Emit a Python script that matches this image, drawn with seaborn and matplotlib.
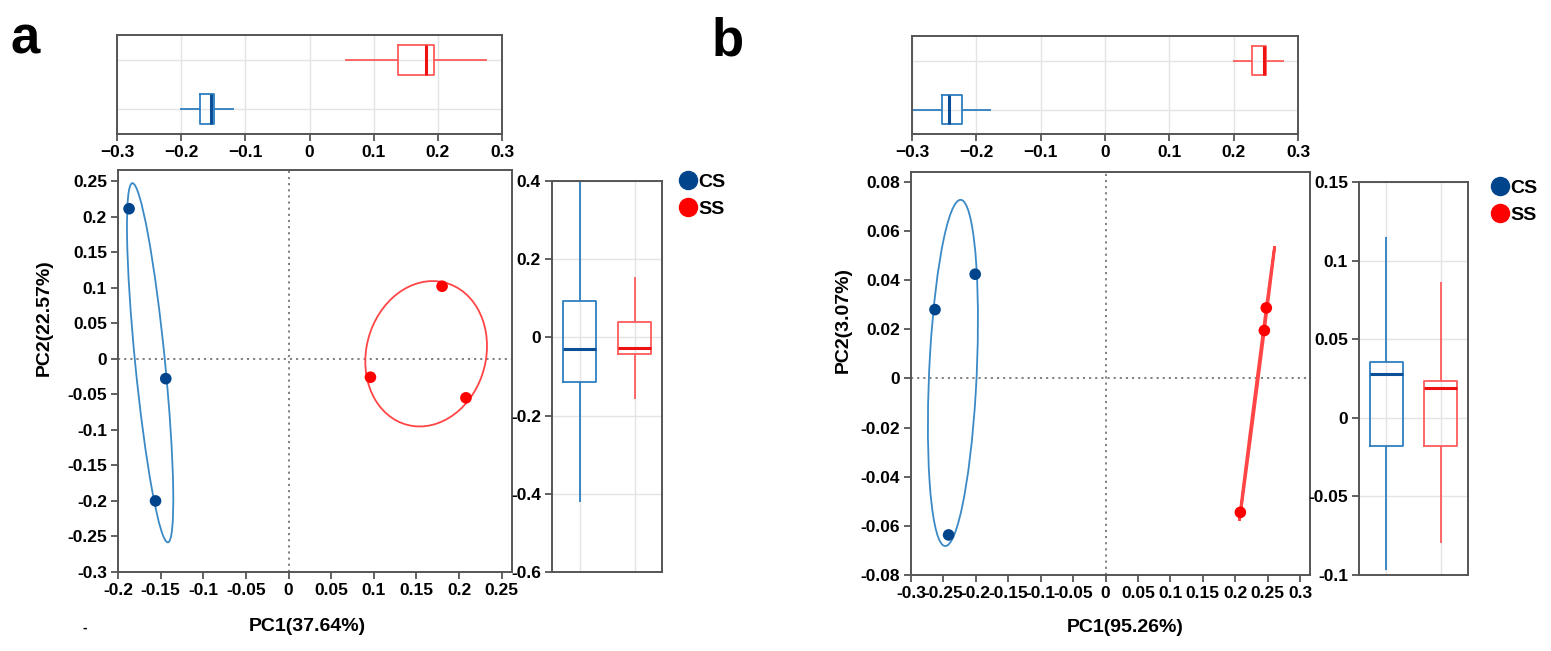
import numpy as np
import pandas as pd
import matplotlib
matplotlib.use("Agg")
import matplotlib.pyplot as plt
import seaborn as sns
from matplotlib.patches import Ellipse
from matplotlib.lines import Line2D

# ---------------- data ----------------
groups = ["CS", "SS"]

# PCA scores, panel a
a_cs_pc1 = [-0.187, -0.144, -0.156]
a_cs_pc2 = [0.211, -0.028, -0.200]
a_ss_pc1 = [0.180, 0.096, 0.208]
a_ss_pc2 = [0.102, -0.026, -0.055]
# PCA scores, panel b
b_cs_pc1 = [-0.263, -0.201, -0.242]
b_cs_pc2 = [0.028, 0.0424, -0.0637]
b_ss_pc1 = [0.248, 0.245, 0.208]
b_ss_pc2 = [0.0287, 0.0195, -0.0545]

# box summaries [min, q1, median, q3, max]
a_box_pc1_cs = [-0.202, -0.171, -0.154, -0.149, -0.118]
a_box_pc1_ss = [0.055, 0.138, 0.181, 0.194, 0.276]
a_box_pc2_cs = [-0.421, -0.114, -0.029, 0.092, 0.400]
a_box_pc2_ss = [-0.157, -0.042, -0.027, 0.039, 0.155]
b_box_pc1_cs = [-0.299, -0.253, -0.243, -0.222, -0.177]
b_box_pc1_ss = [0.1996, 0.2286, 0.247, 0.250, 0.278]
b_box_pc2_cs = [-0.097, -0.0178, 0.0277, 0.0354, 0.115]
b_box_pc2_ss = [-0.0798, -0.0178, 0.019, 0.0237, 0.0862]

a_xlabel = "PC1(37.64%)"
a_ylabel = "PC2(22.57%)"
b_xlabel = "PC1(95.26%)"
b_ylabel = "PC2(3.07%)"

a_main_xticks = [-0.2, -0.15, -0.1, -0.05, 0, 0.05, 0.1, 0.15, 0.2, 0.25]
a_main_yticks = [-0.3, -0.25, -0.2, -0.15, -0.1, -0.05, 0, 0.05, 0.1, 0.15, 0.2, 0.25]
a_side_yticks = [-0.6, -0.4, -0.2, 0, 0.2, 0.4]
b_main_xticks = [-0.3, -0.25, -0.2, -0.15, -0.1, -0.05, 0, 0.05, 0.1, 0.15, 0.2, 0.25, 0.3]
b_main_yticks = [-0.08, -0.06, -0.04, -0.02, 0, 0.02, 0.04, 0.06, 0.08]
b_side_yticks = [-0.1, -0.05, 0, 0.05, 0.1, 0.15]
top_xticks = [-0.3, -0.2, -0.1, 0, 0.1, 0.2, 0.3]

# ---------------- style ----------------
sns.set_theme(style="white")
plt.rcParams["font.family"] = ["Liberation Sans", "DejaVu Sans"]
plt.rcParams["font.weight"] = "bold"
plt.rcParams["text.color"] = "black"
plt.rcParams["axes.labelcolor"] = "black"

PT_COL = {"CS": "#00458c", "SS": "#ff0000"}
BOX_COL = {"CS": "#2e7fc0", "SS": "#ff5c5c"}
MED_COL = {"CS": "#0a4f98", "SS": "#ee1111"}
ELL_COL = {"CS": "#3b8ac6", "SS": "#ff4545"}
SPINE = "#555555"
GRID = "#e4e4e4"
ELLIPSE_SCALE = 1.224
TICK_FS = 12.5

W, H = 1551, 651
fig = plt.figure(figsize=(W / 100, H / 100), dpi=100)


def rect(x0, y0, x1, y1):
    return [x0 / W, 1 - y1 / H, (x1 - x0) / W, (y1 - y0) / H]


def fmt(v, uminus=False):
    s = "%g" % v
    if s == "-0":
        s = "0"
    if uminus:
        s = s.replace("-", "\u2212")
    return s


def style_spines(ax):
    for sp in ax.spines.values():
        sp.set_visible(True)
        sp.set_color(SPINE)
        sp.set_linewidth(1.4)


def add_ellipse(ax, x, y, color, lw):
    cov = np.cov(x, y)
    vals, vecs = np.linalg.eigh(cov)
    order = vals.argsort()[::-1]
    vals, vecs = vals[order], vecs[:, order]
    angle = np.degrees(np.arctan2(vecs[1, 0], vecs[0, 0]))
    w, h = 2 * ELLIPSE_SCALE * np.sqrt(np.clip(vals, 0, None))
    e = Ellipse((np.mean(x), np.mean(y)), w, h, angle=angle,
                facecolor="none", edgecolor=color, lw=lw, zorder=2)
    ax.add_patch(e)


def bold_ticks(ax):
    for lab in ax.get_xticklabels() + ax.get_yticklabels():
        lab.set_fontweight("bold")
        lab.set_color("black")


def panel(letter, letter_xy, r_top, r_main, r_side, scores, box_pc1, box_pc2,
          xlim, ylim, xticks, yticks, side_ylim, side_yticks,
          xlabel, ylabel, xlab_pos, ylab_pos, leg_anchor, ss_ell_lw):
    # ---- main scatter ----
    ax = fig.add_axes(rect(*r_main))
    df = pd.DataFrame({
        "PC1": scores["CS"][0] + scores["SS"][0],
        "PC2": scores["CS"][1] + scores["SS"][1],
        "group": ["CS"] * len(scores["CS"][0]) + ["SS"] * len(scores["SS"][0]),
    })
    ax.axhline(0, color="#777777", lw=1.3, ls=(0, (1.2, 2.2)), zorder=1)
    ax.axvline(0, color="#777777", lw=1.3, ls=(0, (1.2, 2.2)), zorder=1)
    for g in groups:
        add_ellipse(ax, np.array(scores[g][0]), np.array(scores[g][1]), ELL_COL[g],
                    1.3 if g == "CS" else ss_ell_lw)
    sns.scatterplot(data=df, x="PC1", y="PC2", hue="group", palette=PT_COL,
                    s=70, edgecolor="none", legend=False, ax=ax, zorder=3)
    ax.set_xlim(*xlim)
    ax.set_ylim(*ylim)
    ax.set_xticks(xticks)
    ax.set_xticklabels([fmt(v) for v in xticks])
    ax.set_yticks(yticks)
    ax.set_yticklabels([fmt(v) for v in yticks])
    style_spines(ax)
    ax.tick_params(axis="both", direction="out", length=5, width=1.3, color=SPINE,
                   labelcolor="black", labelsize=TICK_FS, pad=3, bottom=True, left=True)
    bold_ticks(ax)
    ax.set_xlabel(xlabel, fontsize=14, fontweight="bold", color="black")
    ax.set_ylabel(ylabel, fontsize=14, fontweight="bold", color="black")
    ax.xaxis.set_label_coords(*xlab_pos)
    ax.yaxis.set_label_coords(*ylab_pos)
    ax.grid(False)

    # ---- top box (PC1) ----
    axt = fig.add_axes(rect(*r_top))
    for g in groups:
        sub = pd.DataFrame({"value": box_pc1[g], "group": g})
        sns.boxplot(data=sub, x="value", y="group", order=["SS", "CS"], color=BOX_COL[g],
                    fill=False, width=0.6, whis=(0, 100), showcaps=False, linewidth=1.3,
                    medianprops=dict(color=MED_COL[g], linewidth=2.2), ax=axt)
    axt.set_xlim(-0.3, 0.3)
    axt.set_ylim(1.5, -0.5)
    axt.set_xticks(top_xticks)
    axt.set_xticklabels([fmt(v, True) for v in top_xticks])
    axt.set_xlabel("")
    axt.set_ylabel("")
    style_spines(axt)
    axt.grid(True, color=GRID, lw=1)
    axt.set_axisbelow(True)
    axt.tick_params(axis="y", length=0, labelleft=False)
    axt.tick_params(axis="x", direction="out", length=5, width=1.3, color=SPINE,
                    labelcolor="black", labelsize=TICK_FS, pad=3, bottom=True)
    bold_ticks(axt)

    # ---- side box (PC2) ----
    axs = fig.add_axes(rect(*r_side))
    for g in groups:
        sub = pd.DataFrame({"value": box_pc2[g], "group": g})
        sns.boxplot(data=sub, x="group", y="value", order=["CS", "SS"], color=BOX_COL[g],
                    fill=False, width=0.6, whis=(0, 100), showcaps=False, linewidth=1.3,
                    medianprops=dict(color=MED_COL[g], linewidth=2.2), ax=axs)
    axs.set_xlim(-0.5, 1.5)
    axs.set_ylim(*side_ylim)
    axs.set_yticks(side_yticks)
    axs.set_yticklabels([fmt(v) for v in side_yticks])
    axs.set_xlabel("")
    axs.set_ylabel("")
    style_spines(axs)
    axs.grid(True, color=GRID, lw=1)
    axs.set_axisbelow(True)
    axs.tick_params(axis="x", length=0, labelbottom=False)
    axs.tick_params(axis="y", direction="out", length=5, width=1.3, color=SPINE,
                    labelcolor="black", labelsize=TICK_FS, pad=3, left=True)
    bold_ticks(axs)

    # ---- legend ----
    handles = [Line2D([], [], marker="o", ls="", color=PT_COL[g], markersize=13) for g in groups]
    fig.legend(handles, groups, loc="upper left",
               bbox_to_anchor=(leg_anchor[0] / W, 1 - leg_anchor[1] / H),
               frameon=False, prop=dict(weight="bold", size=14),
               handletextpad=0.05, labelspacing=0.5, borderpad=0, borderaxespad=0,
               handlelength=1.0, labelcolor="black")

    # ---- panel letter ----
    fig.text(letter_xy[0] / W, 1 - letter_xy[1] / H, letter, fontsize=38,
             fontweight="bold", ha="left", va="baseline", color="black")


panel("a", (11, 53),
      (117, 35, 502, 134), (118, 170, 512, 572), (552, 181, 662, 572),
      {"CS": (a_cs_pc1, a_cs_pc2), "SS": (a_ss_pc1, a_ss_pc2)},
      {"CS": a_box_pc1_cs, "SS": a_box_pc1_ss},
      {"CS": a_box_pc2_cs, "SS": a_box_pc2_ss},
      (-0.2, 0.262), (-0.3, 0.2655), a_main_xticks, a_main_yticks,
      (-0.6, 0.4), a_side_yticks, a_xlabel, a_ylabel,
      (0.48, -0.115), (-0.165, 0.632), (678, 173), 1.3)

panel("b", (712, 56),
      (912, 36, 1298, 134), (911, 172, 1310, 575), (1359, 182, 1468, 575),
      {"CS": (b_cs_pc1, b_cs_pc2), "SS": (b_ss_pc1, b_ss_pc2)},
      {"CS": b_box_pc1_cs, "SS": b_box_pc1_ss},
      {"CS": b_box_pc2_cs, "SS": b_box_pc2_ss},
      (-0.3, 0.3154), (-0.08, 0.084), b_main_xticks, b_main_yticks,
      (-0.1, 0.15), b_side_yticks, b_xlabel, b_ylabel,
      (0.536, -0.11), (-0.148, 0.632), (1490, 179), 2.0)

fig.text(85 / W, 1 - 628 / H, "-", fontsize=10, fontweight="bold", ha="center", va="center")

fig.savefig("out.png", dpi=100)
